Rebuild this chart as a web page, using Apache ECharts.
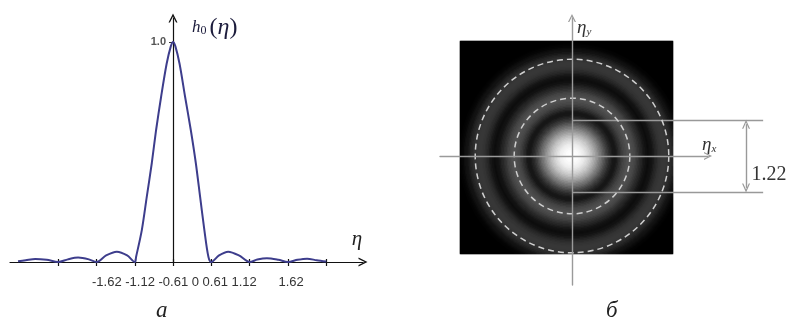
<!DOCTYPE html>
<html>
<head>
<meta charset="utf-8">
<script src="https://cdn.jsdelivr.net/npm/echarts@6/dist/echarts.min.js"></script>
<style>
  html, body { margin: 0; background: #fff; }
  #chart { width: 791px; height: 323px; }
</style>
</head>
<body>
<div id="chart"></div>
<script>
// (a) h0(eta): x measured in tick steps (one step per zero), y relative to the peak
const etaSteps = [-4.05, -3.85, -3.6, -3.3, -3.0, -2.75, -2.48, -2.2, -2.0, -1.75, -1.47, -1.2, -1.0,
  -0.966, -0.817, -0.687, -0.556, -0.444, -0.313, -0.17, -0.06, 0, 0.06, 0.17, 0.313, 0.462,
  0.593, 0.705, 0.817, 0.922, 1.0, 1.2, 1.44, 1.72, 2.0, 2.2, 2.45, 2.75, 3.0, 3.25, 3.5, 3.75, 4.0];
const h0Values = [0.003, 0.008, 0.014, 0.01, 0, 0.012, 0.02, 0.012, 0, 0.03, 0.047, 0.03, 0,
  0.024, 0.145, 0.297, 0.45, 0.6, 0.751, 0.9, 0.98, 1.0, 0.98, 0.9, 0.751, 0.6,
  0.45, 0.297, 0.145, 0.024, 0, 0.03, 0.047, 0.03, 0, 0.011, 0.017, 0.01, 0, 0.01, 0.015, 0.008, 0.002];
const zeroTicks = [-3, -2, -1, 0, 1, 2, 3, 4];
const tickLabels = ['-1.62', '-1.12', '-0.61', '0', '0.61', '1.12', '1.62'];

// (b) disk brightness (0..255) read outward from the centre, one value every ringStep of eta
const ringStep = 0.025;
const ringGray = [255, 255, 254, 253, 251, 248, 245, 241, 236, 230, 223, 215, 206, 196, 185, 174, 162, 150, 137, 124,
  112, 99, 87, 75, 62, 51, 40, 32, 26, 24, 27, 35, 45, 54, 62, 69, 75, 79, 82, 83,
  82, 79, 75, 69, 62, 55, 47, 40, 32, 26, 20, 16, 15, 16, 20, 26, 33, 40, 46, 51,
  55, 57, 58, 58, 57, 55, 51, 46, 40, 34, 27, 21, 16, 12, 9, 6, 4, 3, 2];
const dashedRadii = [0.98, 1.64];
const squareX = [-1.898, 1.712];
const squareY = [-1.661, 1.949];
const halfWidth = 0.61;

const chevron = 'path://M0,10L5,0L10,10L8.4,10L5,3.2L1.6,10Z';
const serif = 'Liberation Serif';

// heatmap cells for the disk, looked up from the ring profile
const cellCount = 213;
const cellIdx = [];
for (let i = 0; i < cellCount; i++) cellIdx.push(i);
const diskCells = [];
for (let i = 0; i < cellCount; i++) {
  for (let j = 0; j < cellCount; j++) {
    const x = squareX[0] + (i + 0.5) * (squareX[1] - squareX[0]) / cellCount;
    const y = squareY[0] + (j + 0.5) * (squareY[1] - squareY[0]) / cellCount;
    const k = Math.round(Math.sqrt(x * x + y * y) / ringStep);
    diskCells.push([i, j, k < ringGray.length ? ringGray[k] : 0]);
  }
}

const labelRow = tickLabels.slice(0, 6).join(' ') + '      ' + tickLabels[6];

const myChart = echarts.init(document.getElementById('chart'));

const hiddenAxis = {
  axisLine: { show: false }, axisTick: { show: false }, axisLabel: { show: false }, splitLine: { show: false }
};

const options = {
  animation: false,
  title: [
    { text: 'а', left: 156, top: 299, padding: 0,
      textStyle: { fontFamily: serif, fontStyle: 'italic', fontWeight: 'normal', fontSize: 23, color: '#222' } },
    { text: 'б', left: 606, top: 299, padding: 0,
      textStyle: { fontFamily: serif, fontStyle: 'italic', fontWeight: 'normal', fontSize: 23, color: '#222' } }
  ],
  graphic: [
    { type: 'text', left: 92, top: 276,
      style: { text: labelRow, font: '13px "Liberation Sans"', fill: '#333' } }
  ],
  visualMap: {
    show: false, type: 'continuous', seriesIndex: 1, min: 0, max: 255,
    inRange: { color: ['#000000', '#ffffff'] }
  },
  grid: [
    { left: 10, top: 18, width: 353, height: 244, outerBoundsMode: 'none', containLabel: false },
    { left: 440, top: 18, width: 268, height: 267, outerBoundsMode: 'none', containLabel: false },
    { left: 460, top: 41, width: 213, height: 213, outerBoundsMode: 'none', containLabel: false },
    { left: 440, top: 18, width: 351, height: 267, outerBoundsMode: 'none', containLabel: false }
  ],
  xAxis: [
    {
      gridIndex: 0, type: 'value', position: 'bottom', min: -4.26, max: 4.96,
      name: 'η', nameLocation: 'end', nameGap: -6, nameMoveOverlap: false,
      nameTextStyle: { fontFamily: serif, fontStyle: 'italic', fontSize: 21, color: '#222',
        align: 'center', verticalAlign: 'bottom', padding: [0, 0, 12, 0] },
      axisLine: { onZero: false, symbol: ['none', chevron], symbolSize: [9, 10],
        lineStyle: { color: '#111', width: 1.2 } },
      axisTick: { show: true, length: 4, customValues: zeroTicks, lineStyle: { color: '#111', width: 1.2 } },
      axisLabel: { show: false },
      splitLine: { show: false }
    },
    {
      gridIndex: 0, type: 'value', position: 'bottom', min: -4.26, max: 4.96,
      axisLine: { show: false, onZero: false },
      axisTick: { show: true, inside: true, length: 3, customValues: zeroTicks,
        lineStyle: { color: '#111', width: 1.2 } },
      axisLabel: { show: false },
      splitLine: { show: false }
    },
    {
      gridIndex: 1, type: 'value', min: -2.237, max: 2.305, z: 10,
      name: '{e|η}{s|x}', nameLocation: 'end', nameGap: -6, nameMoveOverlap: false,
      nameTextStyle: { align: 'left', verticalAlign: 'middle', padding: [0, 0, 22, 0],
        rich: { e: { fontFamily: serif, fontStyle: 'italic', fontSize: 19, color: '#333' },
          s: { fontFamily: serif, fontStyle: 'italic', fontSize: 11, color: '#333', padding: [8, 0, 0, 0] } } },
      axisLine: { onZero: true, symbol: ['none', chevron], symbolSize: [8, 9],
        lineStyle: { color: '#9a9a9a', width: 1.4 } },
      axisTick: { show: false }, axisLabel: { show: false }, splitLine: { show: false }
    },
    { gridIndex: 2, type: 'category', data: cellIdx, show: false },
    Object.assign({ gridIndex: 3, type: 'value', min: -2.237, max: 3.712 }, hiddenAxis)
  ],
  yAxis: [
    {
      gridIndex: 0, type: 'value', min: 0, max: 1.109, position: 'left', offset: -163,
      name: '{h|h}{s|0}{p|(}{e|η}{p|)}', nameLocation: 'end', nameGap: -10, nameMoveOverlap: false,
      nameTextStyle: { align: 'left', verticalAlign: 'middle', padding: [0, 0, 0, 19],
        rich: {
          h: { fontFamily: serif, fontStyle: 'italic', fontSize: 17, color: '#1c1c3c' },
          s: { fontFamily: serif, fontSize: 12, color: '#1c1c3c', padding: [5, 3, 0, 0] },
          p: { fontFamily: serif, fontSize: 24, color: '#1c1c3c' },
          e: { fontFamily: serif, fontStyle: 'italic', fontSize: 24, color: '#1c1c3c' }
        } },
      axisLine: { onZero: false, symbol: ['none', chevron], symbolSize: [9, 10],
        lineStyle: { color: '#111', width: 1.2 } },
      axisTick: { show: true, length: 4, customValues: [1], lineStyle: { color: '#333' } },
      axisLabel: { show: true, customValues: [1], margin: 7, formatter: (v) => v.toFixed(1),
        fontFamily: 'Liberation Sans', fontSize: 11, fontWeight: 'bold', color: '#555' },
      splitLine: { show: false }
    },
    {
      gridIndex: 1, type: 'value', min: -2.186, max: 2.339, z: 10,
      name: '{e|η}{s|y}', nameLocation: 'end', nameGap: -10, nameMoveOverlap: false,
      nameTextStyle: { align: 'left', verticalAlign: 'middle', padding: [0, 0, 0, 5],
        rich: { e: { fontFamily: serif, fontStyle: 'italic', fontSize: 19, color: '#333' },
          s: { fontFamily: serif, fontStyle: 'italic', fontSize: 11, color: '#333', padding: [8, 0, 0, 0] } } },
      axisLine: { onZero: true, symbol: ['none', chevron], symbolSize: [8, 9],
        lineStyle: { color: '#9a9a9a', width: 1.4 } },
      axisTick: { show: false }, axisLabel: { show: false }, splitLine: { show: false }
    },
    { gridIndex: 2, type: 'category', data: cellIdx, show: false },
    Object.assign({ gridIndex: 3, type: 'value', min: -2.186, max: 2.339 }, hiddenAxis)
  ],
  polar: [{ center: [572, 156], radius: 1.8 * 59 }],
  angleAxis: [{ polarIndex: 0, type: 'value', min: 0, max: 360, show: false }],
  radiusAxis: [{
    polarIndex: 0, type: 'value', min: 0, max: 1.8, z: 6,
    axisLine: { show: false }, axisLabel: { show: false },
    axisTick: { show: false, customValues: dashedRadii },
    splitLine: { show: true, lineStyle: { color: '#cfcfcf', width: 1.5, type: [6, 4] } }
  }],
  series: [
    {
      name: 'h0', type: 'line', xAxisIndex: 0, yAxisIndex: 0,
      data: etaSteps.map((t, i) => [t, h0Values[i]]),
      smooth: 0.3, showSymbol: false, symbol: 'none', silent: true,
      lineStyle: { color: '#3d3d8c', width: 2 }
    },
    {
      name: 'disk', type: 'heatmap', xAxisIndex: 3, yAxisIndex: 2,
      data: diskCells, progressive: 0, silent: true
    },
    {
      name: 'dims', type: 'line', xAxisIndex: 4, yAxisIndex: 3, data: [[0, 0]],
      showSymbol: false, symbol: 'none', silent: true, z: 8,
      lineStyle: { width: 0 },
      markLine: {
        silent: true, symbol: ['none', 'none'], label: { show: false },
        lineStyle: { color: '#999', width: 1.4, type: 'solid' },
        data: [
          [{ coord: [0, halfWidth] }, { coord: [3.24, halfWidth] }],
          [{ coord: [0, -halfWidth] }, { coord: [3.24, -halfWidth] }],
          [{ coord: [2.95, halfWidth - 0.07], symbol: chevron, symbolSize: [8, 9] },
           { coord: [2.95, -halfWidth + 0.07], symbol: chevron, symbolSize: [8, 9] }]
        ]
      },
      markPoint: {
        silent: true, symbol: 'circle', symbolSize: 1, itemStyle: { color: 'rgba(0,0,0,0)' },
        label: { show: true, position: 'right', distance: 5, formatter: (2 * halfWidth).toFixed(2),
          fontFamily: serif, fontSize: 20, color: '#333' },
        data: [{ coord: [2.95, -0.32] }]
      }
    }
  ]
};

myChart.clear();
myChart.setOption(options);
</script>
</body>
</html>
